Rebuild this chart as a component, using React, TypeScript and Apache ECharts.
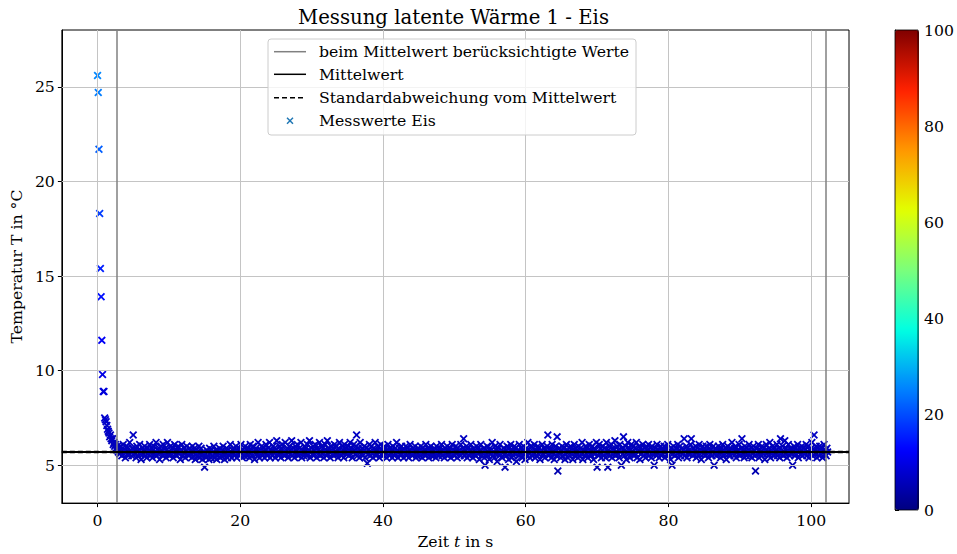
import React, { useEffect, useRef } from "react";
import * as echarts from "echarts";

// ---- data ----
const TIME_STEP_S = 0.1; // sampling interval of the measurement
// temperature samples in °C, one every TIME_STEP_S seconds starting at t = 0
const tempDecay = [
  25.6, 24.7, 21.7, 18.3, 15.4, 13.9, 11.6, 9.8, 8.9, 8.9,
  7.5, 7.4, 7.3, 7.1, 6.9, 6.8, 6.7, 6.5, 6.6, 6.4,
  6.3, 6.4, 6.1, 6.2, 6.0, 6.1, 5.9, 5.8, 6.0, 5.7,
];
const tempPlateau = [
  5.8,5.6,6.0,5.7,5.5,5.9,6.1,5.6,5.8,5.4,5.7,6.0,5.9,5.5,5.6,6.2,5.8,5.7,5.5,5.9,
  6.6,5.8,5.6,5.9,5.4,6.0,5.7,5.5,5.8,6.1,5.6,5.3,5.7,5.9,5.6,5.8,6.0,5.5,5.7,5.4,
  5.9,5.6,5.8,6.1,5.5,5.7,5.9,5.4,5.8,6.0,5.6,5.7,6.2,5.5,5.8,5.6,5.9,5.3,5.7,6.0,
  5.8,5.5,6.1,5.7,5.6,5.9,5.4,5.8,6.2,5.6,5.7,5.5,6.0,5.8,5.6,5.9,5.4,5.7,6.1,5.6,
  5.8,5.5,5.9,6.0,5.6,5.7,5.3,5.8,6.1,5.5,5.7,5.9,5.6,5.4,5.8,6.0,5.6,5.7,5.5,5.9,
  5.6,5.8,5.4,6.0,5.7,5.5,5.9,5.3,5.6,5.8,5.5,5.7,6.0,5.4,5.6,5.9,5.5,5.3,5.7,5.6,
  4.9,5.6,5.4,5.8,5.5,5.7,5.3,5.9,5.6,5.4,5.8,5.5,5.7,6.0,5.4,5.6,5.8,5.3,5.5,5.7,
  5.6,5.9,5.4,5.7,5.5,5.8,6.0,5.5,5.3,5.7,5.6,5.9,5.4,5.8,5.6,5.5,6.1,5.7,5.4,5.8,
  5.6,5.9,5.5,5.7,6.0,5.4,5.8,5.6,5.9,5.5,5.7,6.1,5.6,5.4,5.8,5.7,5.5,6.0,5.6,5.8,
  5.5,5.9,5.7,5.4,6.1,5.6,5.8,5.5,6.0,5.7,5.3,5.8,5.9,5.6,5.5,6.2,5.7,5.4,5.8,5.6,
  6.0,5.5,5.7,5.9,5.4,5.8,6.1,5.6,5.5,5.9,5.7,6.2,5.4,5.6,5.8,5.5,6.0,5.7,5.9,5.4,
  5.8,6.3,5.6,5.7,5.5,6.0,5.8,5.4,5.9,6.1,5.6,5.7,5.5,6.2,5.8,5.6,5.9,5.4,5.7,6.0,
  5.6,5.8,6.3,5.5,5.7,5.9,5.4,6.0,5.8,5.6,6.1,5.5,5.7,5.9,5.6,6.2,5.4,5.8,5.7,5.5,
  6.0,5.7,5.9,5.5,6.1,5.6,5.8,6.3,5.4,5.7,5.9,5.6,6.0,5.5,5.8,6.1,5.7,5.4,5.9,5.6,
  5.8,6.2,5.5,5.7,6.0,5.6,5.9,5.4,5.8,6.1,5.7,5.5,6.3,5.6,5.9,5.7,5.4,6.0,5.8,5.6,
  5.9,5.5,6.1,5.7,5.6,6.0,5.8,5.4,5.9,6.2,5.6,5.7,5.5,6.0,5.8,5.4,6.1,5.7,5.9,5.6,
  5.7,6.0,5.5,5.8,6.2,5.6,5.9,5.4,5.7,6.1,5.8,5.6,6.0,6.6,5.5,5.9,5.7,5.4,6.2,5.8,
  5.6,5.9,5.5,5.8,6.0,5.4,5.7,5.9,5.1,5.6,5.8,6.1,5.5,5.7,6.0,5.6,5.4,5.9,5.7,6.2,
  5.5,5.8,5.6,6.0,5.7,5.4,5.9,6.1,5.6,5.8,5.5,5.7,6.0,5.6,5.9,5.4,5.8,6.1,5.7,5.5,
  5.9,5.6,5.8,5.4,6.0,5.7,5.5,5.9,5.6,6.2,5.8,5.4,5.7,5.9,5.6,5.5,6.0,5.8,5.7,5.4,
  5.8,5.6,6.0,5.5,5.7,5.9,5.4,5.8,6.1,5.6,5.7,5.5,5.9,5.6,5.8,6.0,5.4,5.7,5.5,5.9,
  5.6,5.8,5.5,6.0,5.7,5.4,5.9,5.6,5.8,5.5,6.1,5.7,5.6,5.9,5.4,5.8,5.7,6.0,5.5,5.6,
  5.8,5.5,5.9,5.7,5.4,6.0,5.6,5.8,5.5,5.7,5.9,5.6,6.1,5.5,5.7,5.8,5.4,5.9,5.6,5.7,
  6.0,5.5,5.8,5.6,5.9,5.4,5.7,6.1,5.6,5.8,5.5,5.7,6.0,5.6,5.4,5.9,5.7,5.8,5.5,6.1,
  5.7,5.6,5.9,6.4,5.5,5.8,5.6,6.0,5.4,5.7,5.9,5.5,5.8,6.1,5.6,5.7,5.4,5.9,5.6,5.8,
  5.5,6.0,5.7,5.6,5.9,5.3,5.8,6.1,5.5,5.7,5.6,5.9,5.4,5.0,5.8,5.6,6.0,5.5,5.7,5.3,
  5.9,5.6,5.8,6.2,5.5,5.7,5.4,6.0,5.6,5.8,5.2,5.7,5.9,5.5,6.1,5.6,5.8,5.4,5.7,5.9,
  5.6,4.9,5.8,5.5,6.0,5.7,5.3,5.9,5.6,6.1,5.4,5.8,5.7,5.5,6.0,5.6,5.9,5.2,5.7,5.8,
  5.5,6.1,5.7,5.6,5.9,5.4,5.8,6.0,5.6,5.3,5.7,5.9,5.5,6.2,5.8,5.6,5.4,6.0,5.7,5.5,
  5.9,5.6,6.1,5.4,5.8,5.7,5.5,6.0,5.6,5.9,5.3,5.7,5.8,6.1,5.5,5.6,5.9,5.4,5.8,5.7,
  6.0,6.6,5.5,5.8,5.6,5.9,5.4,6.1,5.7,5.6,5.3,5.8,6.0,5.5,6.5,4.7,5.7,5.9,5.6,5.4,
  5.8,6.0,5.5,5.7,5.9,5.3,5.6,6.1,5.8,5.4,5.7,5.9,5.5,6.0,5.6,5.8,5.3,5.7,6.1,5.5,
  5.9,5.6,5.8,5.4,6.0,5.7,5.5,5.9,5.6,6.2,5.3,5.8,5.7,5.5,6.0,5.6,5.9,5.4,5.7,6.1,
  5.6,5.8,5.5,6.0,5.7,5.3,5.9,5.6,5.8,6.2,4.9,5.7,5.5,6.1,5.6,5.9,5.4,5.8,6.0,5.5,
  5.7,5.9,5.4,6.2,5.6,4.9,5.8,6.0,5.5,5.7,6.1,5.4,5.9,5.6,5.8,6.3,5.5,5.7,6.0,5.6,
  5.8,5.4,6.1,5.7,5.0,5.9,5.6,6.5,5.5,5.8,6.0,5.3,5.7,6.2,5.6,5.9,5.4,5.8,6.1,5.6,
  5.7,6.0,5.5,5.9,5.6,6.2,5.4,5.8,5.7,6.0,5.3,5.9,5.6,5.8,6.1,5.5,5.7,5.9,5.4,6.0,
  5.6,5.8,6.1,5.5,5.7,5.9,5.4,6.0,5.6,5.8,5.0,5.7,5.9,5.5,6.1,5.6,5.8,5.4,5.7,6.0,
  5.5,5.9,5.6,5.8,6.0,5.4,5.7,5.9,5.6,6.1,5.5,5.8,5.7,5.3,5.9,5.0,5.6,6.0,5.8,5.5,
  5.7,5.9,5.6,6.1,5.4,5.8,6.0,5.5,5.7,5.9,5.6,5.8,6.4,5.5,5.7,6.0,5.4,5.9,5.6,5.8,
  5.6,6.1,6.4,5.7,5.5,5.9,5.6,5.8,6.0,5.4,5.7,5.9,5.5,6.1,5.6,5.8,5.3,5.7,6.0,5.6,
  5.9,5.5,5.8,6.0,5.6,5.7,5.4,5.9,6.1,5.6,5.8,5.5,5.7,6.0,5.0,5.6,5.9,5.5,5.8,5.7,
  6.0,5.6,5.8,5.4,5.9,5.7,6.1,5.5,5.8,5.6,5.9,5.3,5.7,6.0,5.6,5.8,5.5,5.9,5.7,6.2,
  5.6,5.8,5.5,5.9,6.0,5.4,5.7,5.8,5.6,6.1,5.5,5.7,5.9,6.4,5.6,5.8,5.4,6.0,5.7,5.5,
  5.9,5.6,5.8,6.1,5.5,5.7,5.9,5.4,5.6,6.0,5.8,5.5,4.7,5.7,5.9,5.6,6.1,5.4,5.8,5.7,
  5.5,6.0,5.7,5.6,5.9,5.3,5.8,6.1,5.6,5.7,5.5,5.9,6.2,5.4,5.8,5.6,6.0,5.7,5.5,5.9,
  5.6,5.8,6.1,5.5,5.7,5.9,5.4,6.4,5.6,5.8,6.0,5.5,5.7,6.3,5.6,5.9,5.4,5.8,6.1,5.7,
  5.5,5.9,5.6,5.8,5.0,5.7,6.0,5.5,5.9,5.6,5.8,6.1,5.4,5.7,5.9,5.6,5.8,6.0,5.5,5.7,
  5.9,5.6,5.8,6.1,5.5,5.7,6.0,5.4,5.8,5.6,5.9,6.2,5.5,5.7,6.6,5.8,5.6,6.0,5.4,5.9,
  5.7,5.5,6.0,5.8,5.6,5.9,5.4,5.7,6.1,5.6,5.8,5.5,5.9,5.7,
];
const rangeStart = 2.76; // beim Mittelwert berücksichtigte Werte: start (s)
const rangeEnd = 102.1; // end (s)
const meanValue = 5.71;
const stdLower = 5.67;
const stdUpper = 5.75;
const xTicks = [0, 20, 40, 60, 80, 100];
const yTicks = [5, 10, 15, 20, 25];
const colorbarTicks = [0, 20, 40, 60, 80, 100];

const titleText = "Messung latente Wärme 1 - Eis";
const legendLabels = [
  "beim Mittelwert berücksichtigte Werte",
  "Mittelwert",
  "Standardabweichung vom Mittelwert",
  "Messwerte Eis",
];

const JET = [
  "#000080", "#0000ff", "#0080ff", "#00ffe2", "#7bff7b",
  "#e2ff00", "#ff9700", "#ff2100", "#800000",
];
const FONT = "DejaVu Serif";
const FS = 15.7;
const X_MARK = "path://M0,1.6L1.6,0L5,3.4L8.4,0L10,1.6L6.6,5L10,8.4L8.4,10L5,6.6L1.6,10L0,8.4L3.4,5Z";

export default function App() {
  const ref = useRef<HTMLDivElement>(null);
  useEffect(() => {
    if (!ref.current) return;
    const chart = echarts.init(ref.current, null, { renderer: "svg" });
    const temps = tempDecay.concat(tempPlateau);
    const points = temps.map((v, i) => [Math.round(i * TIME_STEP_S * 100) / 100, v]);

    const G = { left: 58, top: 30, width: 791, height: 480 };
    const CB = { left: 895, top: 30, width: 24, height: 480 };

    const lx = 274, lx2 = 306, tx = 319;
    const rows = [51.7, 74.3, 97.7, 120.7];

    const option: any = {
      animation: false,
      backgroundColor: "#fff",
      grid: [
        { ...G, show: true, borderColor: "#000", borderWidth: 1, backgroundColor: "transparent" },
        { ...CB, show: true, borderColor: "#000", borderWidth: 0.8, backgroundColor: "transparent", z: 5 },
      ],
      xAxis: [
        {
          type: "value", gridIndex: 0, min: -5.0, max: 105.3,
          splitLine: { show: false },
          axisLine: { show: true, onZero: false, lineStyle: { color: "#000", width: 1 } },
          axisTick: { show: true, inside: false, length: 4, customValues: xTicks, lineStyle: { color: "#000" } },
          axisLabel: { customValues: xTicks, margin: 9, color: "#000", fontFamily: FONT, fontSize: FS },
          name: "Zeit {i|t} in s", nameLocation: "middle", nameGap: 26,
          nameTextStyle: {
            color: "#000", fontFamily: FONT, fontSize: FS,
            rich: { i: { fontStyle: "italic", fontFamily: FONT, fontSize: FS, color: "#000" } },
          },
        },
        { type: "value", gridIndex: 1, min: 0, max: 1, show: false },
      ],
      yAxis: [
        {
          type: "value", gridIndex: 0, min: 3, max: 28,
          splitLine: { show: false },
          axisLine: { show: true, onZero: false, lineStyle: { color: "#000", width: 1 } },
          axisTick: { show: true, inside: false, length: 4, customValues: yTicks, lineStyle: { color: "#000" } },
          axisLabel: { customValues: yTicks, margin: 7, color: "#000", fontFamily: FONT, fontSize: FS },
          name: "Temperatur T in °C", nameLocation: "middle", nameGap: 29, nameRotate: 90,
          nameTextStyle: { color: "#000", fontFamily: FONT, fontSize: FS },
        },
        {
          type: "value", gridIndex: 1, min: 0, max: 100, interval: 20, position: "right",
          splitLine: { show: false },
          axisLine: { show: true, lineStyle: { color: "#000", width: 0.8 } },
          axisTick: { show: true, inside: false, length: 4, customValues: colorbarTicks, lineStyle: { color: "#000" } },
          axisLabel: { customValues: colorbarTicks, margin: 6, color: "#000", fontFamily: FONT, fontSize: FS },
        },
      ],
      visualMap: {
        type: "continuous", min: 0, max: 100, dimension: 1, seriesIndex: 0,
        inRange: { color: JET }, calculable: false, show: true,
        left: CB.left, top: CB.top, itemWidth: CB.width, itemHeight: CB.height,
        padding: 0, text: null, hoverLink: false, z: 4,
      },
      series: [
        {
          type: "scatter", name: "Messwerte Eis", xAxisIndex: 0, yAxisIndex: 0,
          data: points, symbol: X_MARK, symbolSize: 8, z: 2, silent: true,
          itemStyle: { opacity: 1 },
        },
        {
          type: "line", name: "grid", xAxisIndex: 0, yAxisIndex: 0, data: [], z: 3, silent: true,
          markLine: {
            silent: true, symbol: "none", label: { show: false },
            lineStyle: { color: "#c4c4c4", width: 1, type: "solid" },
            emphasis: { disabled: true },
            data: [
              ...xTicks.map((v) => ({ xAxis: v })),
              ...yTicks.map((v) => ({ yAxis: v })),
            ],
          },
        },
        {
          type: "line", name: "range", xAxisIndex: 0, yAxisIndex: 0, data: [], z: 4, silent: true,
          markLine: {
            silent: true, symbol: "none", label: { show: false },
            emphasis: { disabled: true },
            data: [
              { xAxis: rangeStart, lineStyle: { color: "#808080", width: 1.5, type: "solid" } },
              { xAxis: rangeEnd, lineStyle: { color: "#808080", width: 1.5, type: "solid" } },
              { yAxis: meanValue, lineStyle: { color: "#000", width: 2, type: "solid" } },
              { yAxis: stdLower, lineStyle: { color: "#000", width: 1.4, type: [5, 3] } },
              { yAxis: stdUpper, lineStyle: { color: "#000", width: 1.4, type: [5, 3] } },
            ],
          },
        },
        { type: "line", xAxisIndex: 1, yAxisIndex: 1, data: [], silent: true },
      ],
      graphic: [
        {
          type: "text", x: G.left + G.width / 2, y: 17, z: 20,
          style: { text: titleText, fontFamily: FONT, fontSize: 19.7, fill: "#000", align: "center", verticalAlign: "middle" },
        },
        {
          type: "rect", z: 20,
          shape: { x: 268, y: 39, width: 368, height: 96, r: 3 },
          style: { fill: "rgba(255,255,255,0.8)", stroke: "#cccccc", lineWidth: 1 },
        },
        { type: "line", z: 21, shape: { x1: lx, y1: rows[0], x2: lx2, y2: rows[0] }, style: { stroke: "#808080", lineWidth: 1.5 } },
        { type: "line", z: 21, shape: { x1: lx, y1: rows[1], x2: lx2, y2: rows[1] }, style: { stroke: "#000", lineWidth: 1.5 } },
        { type: "line", z: 21, shape: { x1: lx, y1: rows[2], x2: lx2, y2: rows[2] }, style: { stroke: "#000", lineWidth: 1.5, lineDash: [5, 3] } },
        { type: "line", z: 21, shape: { x1: 287, y1: rows[3] - 3, x2: 293, y2: rows[3] + 3 }, style: { stroke: "#1f77b4", lineWidth: 1.5 } },
        { type: "line", z: 21, shape: { x1: 287, y1: rows[3] + 3, x2: 293, y2: rows[3] - 3 }, style: { stroke: "#1f77b4", lineWidth: 1.5 } },
        ...legendLabels.map((t, i) => ({
          type: "text", z: 21, x: tx, y: rows[i],
          style: { text: t, fontFamily: FONT, fontSize: FS, fill: "#000", align: "left", verticalAlign: "middle" },
        })),
      ],
    };
    chart.setOption(option);
    return () => chart.dispose();
  }, []);
  return (
    <div
      ref={ref}
      style={{ position: "fixed", left: 0, top: 0, width: 957, height: 554, background: "#fff" }}
    />
  );
}
